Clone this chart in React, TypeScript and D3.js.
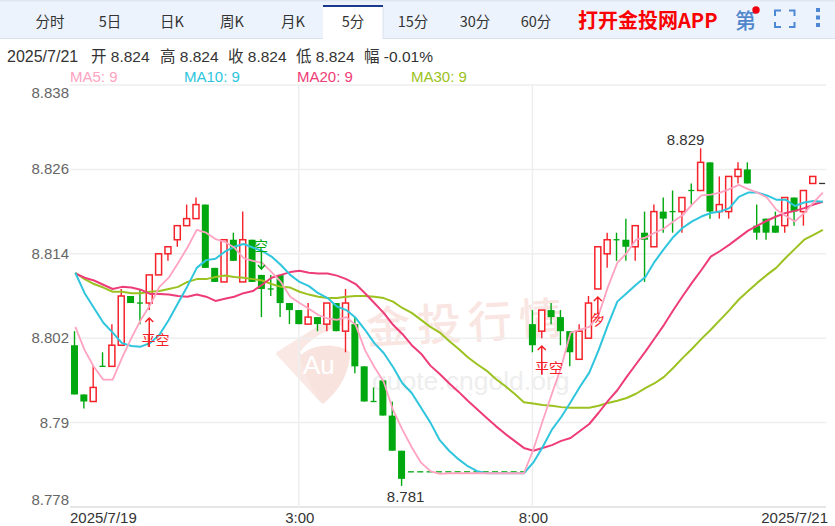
import React from "react";
import * as d3 from "d3";

const W = 835, H = 526;
const tabs = ["分时", "5日", "日K", "周K", "月K", "5分", "15分", "30分", "60分"];
const tabCenters = [50, 110, 172, 232, 293, 353, 413, 475, 536];
const infoTexts = ["2025/7/21", "开 8.824", "高 8.824", "收 8.824", "低 8.824", "幅 -0.01%"];
const infoX = [7, 91, 160, 228, 296, 364];
const maLegend = ["MA5: 9", "MA10: 9", "MA20: 9", "MA30: 9"];
const maLegendX = [70, 184, 297, 411];
const maColors = ["#ffa3c0", "#2ec5dd", "#ee3c78", "#9bc220"];
const yTicks = [8.838, 8.826, 8.814, 8.802, 8.79, 8.778];
const yLabels = ["8.838", "8.826", "8.814", "8.802", "8.79", "8.778"];
const xLabels = ["2025/7/19", "3:00", "8:00", "2025/7/21"];
const gridIndex = [24, 49];

const opens = [8.801,8.794,8.793,8.798,8.798,8.801,8.808,8.807,8.807,8.811,8.814,8.816,8.818,8.819,8.821,8.812,8.810,8.816,8.810,8.816,8.811,8.809,8.811,8.807,8.806,8.804,8.805,8.804,8.807,8.803,8.804,8.798,8.793,8.796,8.791,8.786,8.783,8.783,8.783,8.783,8.783,8.783,8.783,8.783,8.783,8.783,8.783,8.783,8.783,8.804,8.803,8.806,8.805,8.803,8.799,8.802,8.809,8.814,8.816,8.816,8.815,8.817,8.815,8.820,8.820,8.820,8.823,8.823,8.827,8.820,8.820,8.825,8.826,8.818,8.819,8.818,8.818,8.822,8.820,8.824,8.824];
const closes = [8.794,8.793,8.795,8.798,8.801,8.808,8.807,8.807,8.811,8.814,8.815,8.818,8.819,8.821,8.812,8.810,8.816,8.813,8.816,8.810,8.809,8.809,8.807,8.806,8.804,8.805,8.804,8.807,8.803,8.807,8.798,8.793,8.793,8.791,8.786,8.782,8.783,8.783,8.783,8.783,8.783,8.783,8.783,8.783,8.783,8.783,8.783,8.783,8.783,8.801,8.806,8.805,8.803,8.800,8.803,8.807,8.815,8.816,8.816,8.815,8.818,8.816,8.820,8.819,8.820,8.822,8.823,8.827,8.820,8.821,8.825,8.826,8.824,8.817,8.817,8.817,8.822,8.820,8.823,8.825,8.824];
const highs = [8.803,8.794,8.798,8.800,8.804,8.809,8.808,8.809,8.811,8.814,8.815,8.818,8.821,8.822,8.821,8.812,8.816,8.817,8.820,8.816,8.811,8.811,8.811,8.807,8.806,8.807,8.805,8.807,8.807,8.809,8.805,8.798,8.795,8.796,8.793,8.786,8.783,8.783,8.783,8.783,8.783,8.783,8.783,8.783,8.783,8.783,8.783,8.783,8.783,8.806,8.806,8.807,8.806,8.803,8.804,8.808,8.815,8.817,8.817,8.819,8.818,8.820,8.821,8.822,8.823,8.822,8.824,8.829,8.827,8.825,8.825,8.827,8.827,8.821,8.819,8.820,8.822,8.822,8.823,8.825,8.824];
const lows = [8.794,8.792,8.793,8.798,8.798,8.801,8.807,8.804,8.806,8.811,8.813,8.815,8.818,8.819,8.812,8.810,8.810,8.813,8.810,8.810,8.805,8.808,8.805,8.804,8.804,8.804,8.803,8.803,8.803,8.800,8.797,8.793,8.793,8.791,8.786,8.781,8.783,8.783,8.783,8.783,8.783,8.783,8.783,8.783,8.783,8.783,8.783,8.783,8.783,8.800,8.802,8.804,8.801,8.798,8.799,8.802,8.809,8.812,8.813,8.813,8.813,8.810,8.815,8.817,8.817,8.817,8.821,8.823,8.819,8.819,8.819,8.824,8.824,8.816,8.816,8.817,8.817,8.818,8.818,8.824,8.824];

const ma5 = [8.8036,8.8003,8.7979,8.7961,8.7961,8.7992,8.8020,8.8046,8.8067,8.8093,8.8106,8.8127,8.8149,8.8174,8.8170,8.8161,8.8157,8.8149,8.8134,8.8130,8.8127,8.8114,8.8100,8.8079,8.8070,8.8062,8.8053,8.8048,8.8046,8.8050,8.8039,8.8003,8.7979,8.7958,8.7918,8.7890,8.7865,8.7843,8.7831,8.7827,8.7828,8.7828,8.7828,8.7828,8.7828,8.7828,8.7828,8.7828,8.7828,8.7861,8.7902,8.7941,8.7979,8.8028,8.8032,8.8036,8.8053,8.8093,8.8127,8.8141,8.8160,8.8163,8.8170,8.8176,8.8186,8.8195,8.8210,8.8223,8.8224,8.8227,8.8232,8.8238,8.8232,8.8227,8.8220,8.8203,8.8194,8.8186,8.8198,8.8213,8.8227];
const ma10 = [8.8113,8.8084,8.8063,8.8042,8.8028,8.8013,8.8009,8.8008,8.8013,8.8025,8.8046,8.8070,8.8094,8.8120,8.8131,8.8133,8.8143,8.8150,8.8154,8.8149,8.8144,8.8136,8.8124,8.8110,8.8100,8.8094,8.8084,8.8077,8.8065,8.8060,8.8049,8.8032,8.8013,8.7999,8.7979,8.7956,8.7942,8.7921,8.7900,8.7875,8.7860,8.7848,8.7838,8.7831,8.7828,8.7828,8.7828,8.7828,8.7828,8.7843,8.7865,8.7890,8.7908,8.7929,8.7951,8.7971,8.8003,8.8039,8.8072,8.8084,8.8096,8.8107,8.8129,8.8147,8.8164,8.8177,8.8186,8.8193,8.8198,8.8200,8.8205,8.8221,8.8227,8.8227,8.8223,8.8217,8.8217,8.8208,8.8213,8.8215,8.8214];
const ma20 = [8.8112,8.8106,8.8102,8.8096,8.8090,8.8093,8.8092,8.8089,8.8083,8.8083,8.8082,8.8080,8.8079,8.8082,8.8079,8.8073,8.8076,8.8079,8.8084,8.8087,8.8096,8.8106,8.8110,8.8114,8.8116,8.8113,8.8112,8.8112,8.8109,8.8104,8.8097,8.8084,8.8070,8.8056,8.8039,8.8026,8.8010,8.7998,8.7981,8.7969,8.7956,8.7944,8.7931,8.7919,8.7907,8.7895,8.7884,8.7874,8.7864,8.7860,8.7864,8.7868,8.7874,8.7878,8.7888,8.7898,8.7914,8.7931,8.7946,8.7965,8.7983,8.8001,8.8020,8.8039,8.8060,8.8080,8.8099,8.8117,8.8136,8.8144,8.8153,8.8163,8.8173,8.8180,8.8187,8.8193,8.8198,8.8201,8.8205,8.8210,8.8214];
const ma30 = [8.8113,8.8104,8.8097,8.8092,8.8086,8.8086,8.8084,8.8084,8.8086,8.8087,8.8090,8.8093,8.8100,8.8104,8.8104,8.8107,8.8109,8.8107,8.8106,8.8104,8.8102,8.8097,8.8093,8.8092,8.8086,8.8082,8.8079,8.8077,8.8077,8.8079,8.8080,8.8080,8.8079,8.8077,8.8072,8.8063,8.8056,8.8046,8.8036,8.8028,8.8016,8.8005,8.7993,8.7983,8.7974,8.7962,8.7952,8.7941,8.7929,8.7927,8.7925,8.7924,8.7922,8.7921,8.7921,8.7921,8.7924,8.7928,8.7931,8.7935,8.7941,8.7949,8.7956,8.7965,8.7978,8.7992,8.8005,8.8019,8.8032,8.8046,8.8060,8.8075,8.8087,8.8099,8.8110,8.8120,8.8134,8.8147,8.8160,8.8167,8.8174];

const maSeries = [ma30, ma20, ma10, ma5];
const maSeriesColors = [maColors[3], maColors[2], maColors[1], maColors[0]];

const x = d3.scaleLinear().domain([0, 80]).range([74.5, 822.1]);
const y = d3.scaleLinear().domain([8.838, 8.778]).range([85, 507]);

const sans = "'Liberation Sans', Arial, 'Noto Sans CJK SC', sans-serif";
const cjk = "'Noto Sans CJK SC', sans-serif";
const RED = "#f5222a";
const GREEN = "#00a810";

export default function App() {
  const line = d3.line<number>().x((_, i) => x(i) + 0.8).y((d) => y(d));
  return (
    <svg width={W} height={H} style={{ position: "absolute", left: 0, top: 0, background: "#fff", display: "block" }}>
      {/* header */}
      <rect x={0} y={1} width={W} height={37} fill="#edf3fd" />
      <rect x={0} y={0} width={W} height={1.5} fill="#dfe7f3" />
      <rect x={0} y={38} width={W} height={1} fill="#d9e2ef" />
      <rect x={323} y={5} width={60} height={34} fill="#fff" />
      <rect x={382.5} y={6} width={1} height={33} fill="#d9e2ef" />
      <rect x={323} y={5} width={60} height={2} fill="#1a3a8f" />
      {tabs.map((t, i) => (
        <text key={t} x={tabCenters[i]} y={27} textAnchor="middle" fontSize={14.5} fill="#333" fontFamily={cjk}>{t}</text>
      ))}
      <text x={578} y={28} fontSize={20} fontWeight={700} fill="#fb0000" fontFamily={cjk}>打开金投网APP</text>
      <text x={735} y={28} fontSize={21} fontWeight={500} fill="#4f86cc" fontFamily={cjk}>第</text>
      <circle cx={756} cy={10} r={3.7} fill="#f00010" />
      <path d="M775 16V10.5H781M789 10.5H794.5V16M794.5 22V27H789M781 27H775V22" fill="none" stroke="#4c88d4" strokeWidth={2} />
      <rect x={816} y={8} width={4} height={4} fill="#4c88d4" />
      <rect x={816} y={15.5} width={4} height={4} fill="#4c88d4" />
      <rect x={816} y={23} width={4} height={4} fill="#4c88d4" />

      {/* info */}
      {infoTexts.map((t, i) => (
        <text key={t + i} x={infoX[i]} y={62} fontSize={i === 0 ? 16 : 15.5} fill="#333" fontFamily={sans}>{t}</text>
      ))}
      {maLegend.map((t, i) => (
        <text key={t} x={maLegendX[i]} y={82} fontSize={15} fill={maColors[i]} fontFamily={sans}>{t}</text>
      ))}

      {/* watermark */}
      <g>
        <path d="M277 352L340 312L352 322C330 328 312 336 300 352L322 404L276 354Z" fill="#f9e8e4" />
        <path d="M300 356C312 344 335 342 350 352C350 372 340 390 323 404C312 392 304 374 300 356Z" fill="#f8e3de" />
        <text x={303} y={374} fontSize={26} fill="#fff" fontFamily={sans}>Au</text>
        <text x={367} y={344} fontSize={44} fill="#f9e6e2" fontFamily={cjk} letterSpacing={7} fontWeight={500} transform="rotate(-3 367 344)">金投行情</text>
        <text x={372} y={390} fontSize={26.5} fill="#eeeeee" fontFamily={sans}>quote.cngold.org</text>
      </g>

      {/* grid */}
      {yTicks.map((t) => (
        <line key={t} x1={70} x2={826} y1={y(t)} y2={y(t)} stroke={t === 8.778 ? "#e6e6e6" : "#eeeeee"} strokeWidth={t === 8.778 ? 2 : 1.5} />
      ))}
      {gridIndex.map((g) => (
        <line key={g} x1={x(g)} x2={x(g)} y1={85} y2={507} stroke="#eeeeee" strokeWidth={1.5} />
      ))}
      {yTicks.map((t, i) => {
        const yy = i === 0 ? y(t) + 13 : i === yTicks.length - 1 ? y(t) - 2 : y(t) + 5;
        return <text key={t} x={69} y={yy} textAnchor="end" fontSize={15} fill="#666" fontFamily={sans}>{yLabels[i]}</text>;
      })}
      <text x={70} y={523} fontSize={15} fill="#333" fontFamily={sans}>{xLabels[0]}</text>
      <text x={x(24) + 1} y={523} textAnchor="middle" fontSize={15} fill="#333" fontFamily={sans}>{xLabels[1]}</text>
      <text x={x(49) + 1} y={523} textAnchor="middle" fontSize={15} fill="#333" fontFamily={sans}>{xLabels[2]}</text>
      <text x={828} y={523} textAnchor="end" fontSize={15} fill="#333" fontFamily={sans}>{xLabels[3]}</text>

      {/* candles */}
      {opens.map((o, i) => {
        const c = closes[i];
        const up = c > o;
        const last = i === opens.length - 1;
        const col = last ? "#333" : up ? RED : GREEN;
        const top = y(Math.max(o, c));
        const bot = y(Math.min(o, c));
        const cx = x(i);
        const doji = o === c;
        return (
          <g key={i}>
            {!last && <line x1={cx} x2={cx} y1={y(highs[i])} y2={y(lows[i])} stroke={col} strokeWidth={1.4} />}
            {doji ? (
              <line x1={cx - 3} x2={cx + 3} y1={top} y2={top} stroke={col} strokeWidth={1.3} />
            ) : up ? (
              <rect x={cx - 3} y={top} width={6} height={bot - top} fill="#fff" stroke={col} strokeWidth={1.5} />
            ) : (
              <rect x={cx - 3.5} y={top} width={7} height={bot - top} fill={col} />
            )}
          </g>
        );
      })}

      {/* moving averages */}
      {maSeries.map((s, i) => (
        <path key={i} d={line(s) ?? ""} fill="none" stroke={maSeriesColors[i]} strokeWidth={i === 3 ? 1.8 : 2} strokeLinejoin="round" />
      ))}

      {/* signal markers */}
      <g stroke={RED} strokeWidth={1.5} fill="none">
        <path d={`M${x(8)} 347V318M${x(8) - 4} 322L${x(8)} 318L${x(8) + 4} 322`} />
        <path d={`M${x(50)} 374V346M${x(50) - 4} 350L${x(50)} 346L${x(50) + 4} 350`} />
        <path d={`M${x(56)} 314V297M${x(56) - 4} 301L${x(56)} 297L${x(56) + 4} 301`} />
      </g>
      <text x={155.5} y={345} textAnchor="middle" fontSize={14} fill={RED} fontFamily={cjk}>平空</text>
      <text x={549} y={373} textAnchor="middle" fontSize={14} fill={RED} fontFamily={cjk}>平空</text>
      <text x={598} y={324} textAnchor="middle" fontSize={14} fill={RED} fontFamily={cjk} transform="rotate(-25 598 319)">多</text>
      <path d={`M${x(20)} 252V269M${x(20) - 3.5} 265L${x(20)} 269L${x(20) + 3.5} 265`} stroke={GREEN} strokeWidth={1.5} fill="none" />
      <text x={261} y={251} textAnchor="middle" fontSize={14} fill={GREEN} fontFamily={cjk}>空</text>

      <text x={x(67) - 15} y={145} textAnchor="middle" fontSize={15} fill="#333" fontFamily={sans}>8.829</text>
      <text x={x(35) + 4} y={502} textAnchor="middle" fontSize={15} fill="#333" fontFamily={sans}>8.781</text>
    </svg>
  );
}
